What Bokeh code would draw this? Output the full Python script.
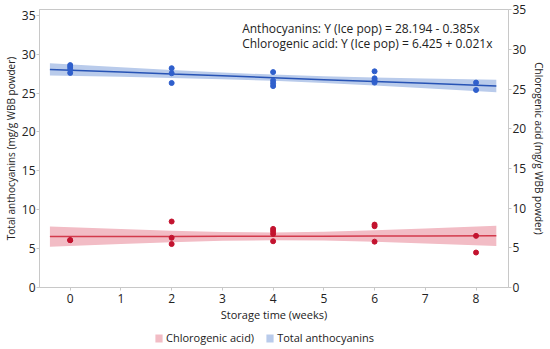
from bokeh.plotting import figure
from bokeh.layouts import column
from bokeh.models import Range1d, LinearAxis, Legend, LegendItem, Label, FixedTicker
from bokeh.embed import file_html
from bokeh.resources import INLINE

FONT = "Open Sans"

# Anthocyanins (left axis)
antho_x = [0, 0, 0, 0, 2, 2, 2, 4, 4, 4, 4, 6, 6, 6, 6, 8, 8]
antho_y = [28.6, 28.35, 28.05, 27.6, 28.2, 27.55, 26.3, 27.7, 26.6, 26.25, 25.9, 27.8, 26.9, 26.65, 26.35, 26.35, 25.4]

# Chlorogenic acid (right axis)
chloro_x = [0, 0, 2, 2, 2, 4, 4, 4, 4, 6, 6, 6, 8, 8]
chloro_y = [5.97, 5.97, 8.32, 6.27, 5.48, 7.39, 7.10, 6.76, 5.83, 7.93, 7.73, 5.78, 6.51, 4.41]

# Fitted lines and confidence bands
band_x = [-0.4, 1, 2, 3, 4, 5, 6, 7, 8.4]
antho_fit = [28.05, 27.71, 27.46, 27.22, 26.98, 26.73, 26.49, 26.25, 25.90]
antho_up = [28.85, 28.33, 27.97, 27.65, 27.38, 27.16, 27.00, 26.87, 26.70]
antho_lo = [27.25, 27.09, 26.95, 26.79, 26.58, 26.30, 25.98, 25.63, 25.10]
chloro_fit = [6.42, 6.43, 6.44, 6.45, 6.46, 6.47, 6.48, 6.49, 6.51]
chloro_up = [7.69, 7.36, 7.16, 7.00, 6.95, 7.03, 7.21, 7.43, 7.78]
chloro_lo = [5.14, 5.48, 5.71, 5.88, 5.97, 5.91, 5.76, 5.55, 5.24]

x_ticks = [0, 1, 2, 3, 4, 5, 6, 7, 8]
y_ticks = [0, 5, 10, 15, 20, 25, 30, 35]

eq_lines = ["Anthocyanins: Y (Ice pop) = 28.194 - 0.385x",
            "Chlorogenic acid: Y (Ice pop) = 6.425 + 0.021x"]
legend_labels = ["Chlorogenic acid)", "Total anthocyanins"]

BLUE_PT = "#2f5fcc"
BLUE_LN = "#2753b5"
BLUE_BAND = "#b9cbeb"
RED_PT = "#c3132f"
RED_LN = "#d33a4c"
RED_BAND = "#f2bcc5"
GRAY = "#c8c8c8"
TXT = "#222222"

p = figure(frame_width=469, frame_height=278, output_backend="svg", toolbar_location=None,
           x_range=Range1d(-0.605, 8.64), y_range=Range1d(0, 35.75),
           min_border_left=32, min_border_right=0, min_border_top=9, min_border_bottom=0)
p.extra_y_ranges = {"right": Range1d(0, 35.05)}

p.xgrid.visible = False
p.ygrid.visible = False
p.outline_line_color = GRAY
p.outline_line_width = 1
p.background_fill_color = "white"
p.border_fill_color = "white"

# bands
ab = p.varea(x=band_x, y1=antho_lo, y2=antho_up, fill_color=BLUE_BAND, fill_alpha=1)
cb = p.varea(x=band_x, y1=chloro_lo, y2=chloro_up, fill_color=RED_BAND, fill_alpha=1, y_range_name="right")
p.line(band_x, antho_fit, line_color=BLUE_LN, line_width=1.5)
p.line(band_x, chloro_fit, line_color=RED_LN, line_width=1.5, y_range_name="right")
p.scatter(antho_x, antho_y, size=5, fill_color=BLUE_PT, line_color=BLUE_PT)
p.scatter(chloro_x, chloro_y, size=5, fill_color=RED_PT, line_color=RED_PT, y_range_name="right")

def style_axis(ax):
    ax.axis_line_color = GRAY
    ax.major_tick_line_color = GRAY
    ax.minor_tick_line_color = None
    ax.major_tick_out = 3
    ax.major_tick_in = 0
    ax.major_label_text_font = FONT
    ax.major_label_text_font_size = "12px"
    ax.major_label_text_color = TXT
    ax.axis_label_text_font = FONT
    ax.axis_label_text_font_size = "10px"
    ax.axis_label_text_font_style = "normal"
    ax.axis_label_text_color = TXT

xa = p.xaxis[0]
xa.ticker = FixedTicker(ticks=x_ticks)
xa.axis_label = "Storage time (weeks)"
style_axis(xa)
xa.axis_label_text_font_size = "11px"
xa.major_label_standoff = 3
xa.axis_label_standoff = 1

ya = p.yaxis[0]
ya.ticker = FixedTicker(ticks=y_ticks)
ya.axis_label = "Total anthocyanins (mg/g WBB powder)"
style_axis(ya)
ya.major_label_standoff = 1
ya.axis_label_standoff = 1

ra = LinearAxis(y_range_name="right", ticker=FixedTicker(ticks=y_ticks),
                axis_label="Chlorogenic acid (mg/g WBB powder)")
style_axis(ra)
ra.major_label_standoff = 1
ra.axis_label_standoff = 3
p.add_layout(ra, "right")

for i, t in enumerate(eq_lines):
    p.add_layout(Label(x=3.39, y=33.3 - i * 1.93, text=t, text_font=FONT, text_font_size="12px",
                       text_color=TXT, text_baseline="middle", text_align="left"))

# Legend strip below the chart (same band data, drawn out of view)
lg = figure(width=534, height=22, output_backend="svg", toolbar_location=None,
            x_range=Range1d(100, 101), y_range=Range1d(100, 101),
            min_border_left=0, min_border_right=0, min_border_top=0, min_border_bottom=0)
lg.axis.visible = False
lg.xgrid.visible = False
lg.ygrid.visible = False
lg.outline_line_color = None
lcb = lg.varea(x=band_x, y1=chloro_lo, y2=chloro_up, fill_color=RED_BAND, fill_alpha=1)
lab = lg.varea(x=band_x, y1=antho_lo, y2=antho_up, fill_color=BLUE_BAND, fill_alpha=1)
legend = Legend(items=[LegendItem(label=legend_labels[0], renderers=[lcb]),
                       LegendItem(label=legend_labels[1], renderers=[lab])],
                orientation="horizontal", location=(115, 1),
                label_text_font=FONT, label_text_font_size="11px", label_text_color=TXT,
                glyph_width=9, glyph_height=10, label_standoff=3, spacing=11,
                label_height=12, padding=0, margin=0, border_line_color=None, background_fill_alpha=0)
lg.add_layout(legend, "center")

layout = column(p, lg, spacing=0)
open("out.html", "w").write(file_html(layout, INLINE))
